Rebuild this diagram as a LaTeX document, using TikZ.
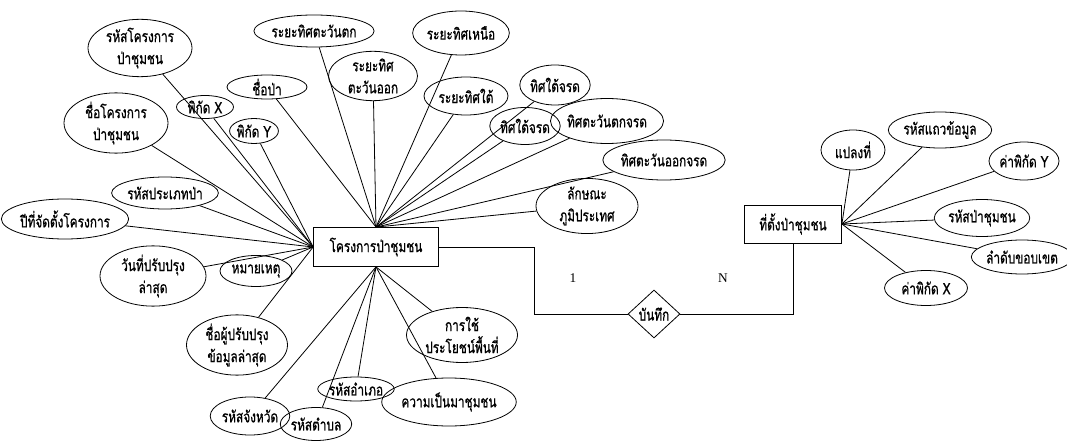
\documentclass[tikz,border=0pt]{standalone}
\usepackage{fontspec}
\setmainfont{Liberation Serif}
\newfontfamily\thaifont[Script=Thai, FakeStretch=0.74, FakeBold=0.8]{Loma}
\usetikzlibrary{shapes.geometric}

\begin{document}
\begin{tikzpicture}[x=0.75pt,y=-0.75pt,line width=0.6pt]
\tikzset{every node/.style={inner sep=0pt, font=\thaifont\fontsize{12}{16.5}\selectfont},
  attr/.style={draw, ellipse, align=center},
  sz/.style 2 args={minimum width=#1*0.75pt, minimum height=#2*0.75pt},
  ent/.style={draw, rectangle},
  rel/.style={draw, diamond, aspect=1.1},
  card/.style={font=\rmfamily\fontsize{10}{12}\selectfont}}
\useasboundingbox (0,0) rectangle (1067,445);
\node [ent, sz={125}{39}] (proj) at (376,247) {โครงการป่าชุมชน};
\node [ent, sz={97}{38}] (site) at (793,224) {ที่ตั้งป่าชุมชน};
\node [rel, sz={52}{48}] (rec) at (654,314) {บันทึก};
\node [card] (one) at (573,278) {1};
\node [card] (many) at (723,278) {N};
\node [attr, sz={104}{57}] (pcode) at (140,48) {รหัสโครงการ\\ป่าชุมชน};
\node [attr, sz={104}{57}] (pname) at (116,123) {ชื่อโครงการ\\ป่าชุมชน};
\node [attr, sz={57}{23}] (ptx) at (205,107) {พิกัด X};
\node [attr, sz={44}{25}] (pty) at (254,131) {พิกัด Y};
\node [attr, sz={80}{24}] (fname) at (267,87) {ชื่อป่า};
\node [attr, sz={115}{32}] (dwest) at (314,31) {ระยะทิศตะวันตก};
\node [attr, sz={89}{47}] (deast) at (373,76) {ระยะทิศ\\ตะวันออก};
\node [attr, sz={88}{44}] (dnorth) at (461,33) {ระยะทิศเหนือ};
\node [attr, sz={84}{38}] (dsouth) at (466,96) {ระยะทิศใต้};
\node [attr, sz={58}{40}] (bsoutha) at (555,85) {ทิศใต้จรด};
\node [attr, sz={57}{37}] (bsouthb) at (525,126) {ทิศใต้จรด};
\node [attr, sz={102}{45}] (bwest) at (607,121) {ทิศตะวันตกจรด};
\node [attr, sz={98}{40}] (beast) at (664,160) {ทิศตะวันออกจรด};
\node [attr, sz={102}{46}] (terrain) at (587,206) {ลักษณะ\\ภูมิประเทศ};
\node [attr, sz={96}{32}] (ptype) at (165,193) {รหัสประเภทป่า};
\node [attr, sz={118}{40}] (pyear) at (65,219) {ปีที่จัดตั้งโครงการ};
\node [attr, sz={106}{50}] (pdate) at (153,276) {วันที่ปรับปรุง\\ล่าสุด};
\node [attr, sz={72}{31}] (pnote) at (256,271) {หมายเหตุ};
\node [attr, sz={101}{50}] (pwho) at (237,345) {ชื่อผู้ปรับปรุง\\ข้อมูลล่าสุด};
\node [attr, sz={66}{38}] (prov) at (250,416) {รหัสจังหวัด};
\node [attr, sz={60}{33}] (subd) at (316,424) {รหัสตำบล};
\node [attr, sz={72}{24}] (dist) at (356,389) {รหัสอำเภอ};
\node [attr, sz={103}{48}] (hist) at (449,402) {ความเป็นมาชุมชน};
\node [attr, sz={111}{55}] (landuse) at (462,335) {การใช้\\ประโยชน์พื้นที่};
\node [attr, sz={64}{40}] (plot) at (853,150) {แปลงที่};
\node [attr, sz={95}{36}] (rowid) at (940,130) {รหัสแถวข้อมูล};
\node [attr, sz={70}{38}] (cy) at (1024,161) {ค่าพิกัด Y};
\node [attr, sz={88}{37}] (fcode) at (982,218) {รหัสป่าชุมชน};
\node [attr, sz={88}{34}] (bseq) at (1022,257) {ลำดับขอบเขต};
\node [attr, sz={83}{35}] (cx) at (926,288) {ค่าพิกัด X};
\draw (pcode) -- (proj.west);
\draw (pname) -- (proj.west);
\draw (ptx) -- (proj.west);
\draw (pty) -- (proj.west);
\draw (ptype) -- (proj.west);
\draw (pyear) -- (proj.west);
\draw (pdate) -- (proj.west);
\draw (pnote) -- (proj.west);
\draw (pwho) -- (proj.west);
\draw (fname) -- (proj.north);
\draw (dwest) -- (proj.north);
\draw (deast) -- (proj.north);
\draw (dnorth) -- (proj.north);
\draw (dsouth) -- (proj.north);
\draw (bsoutha) -- (proj.north);
\draw (bsouthb) -- (proj.north);
\draw (bwest) -- (proj.north);
\draw (beast) -- (proj.north);
\draw (terrain) -- (proj.north);
\draw (prov) -- (proj.south);
\draw (subd) -- (proj.south);
\draw (dist) -- (proj.south);
\draw (hist) -- (proj.south);
\draw (landuse) -- (proj.south);
\draw (proj.east) -- ++(95,0) |- (rec.west);
\draw (rec.east) -| (site.south);
\draw (plot) -- (site.east);
\draw (rowid) -- (site.east);
\draw (cy) -- (site.east);
\draw (fcode) -- (site.east);
\draw (bseq) -- (site.east);
\draw (cx) -- (site.east);
\end{tikzpicture}
\end{document}
